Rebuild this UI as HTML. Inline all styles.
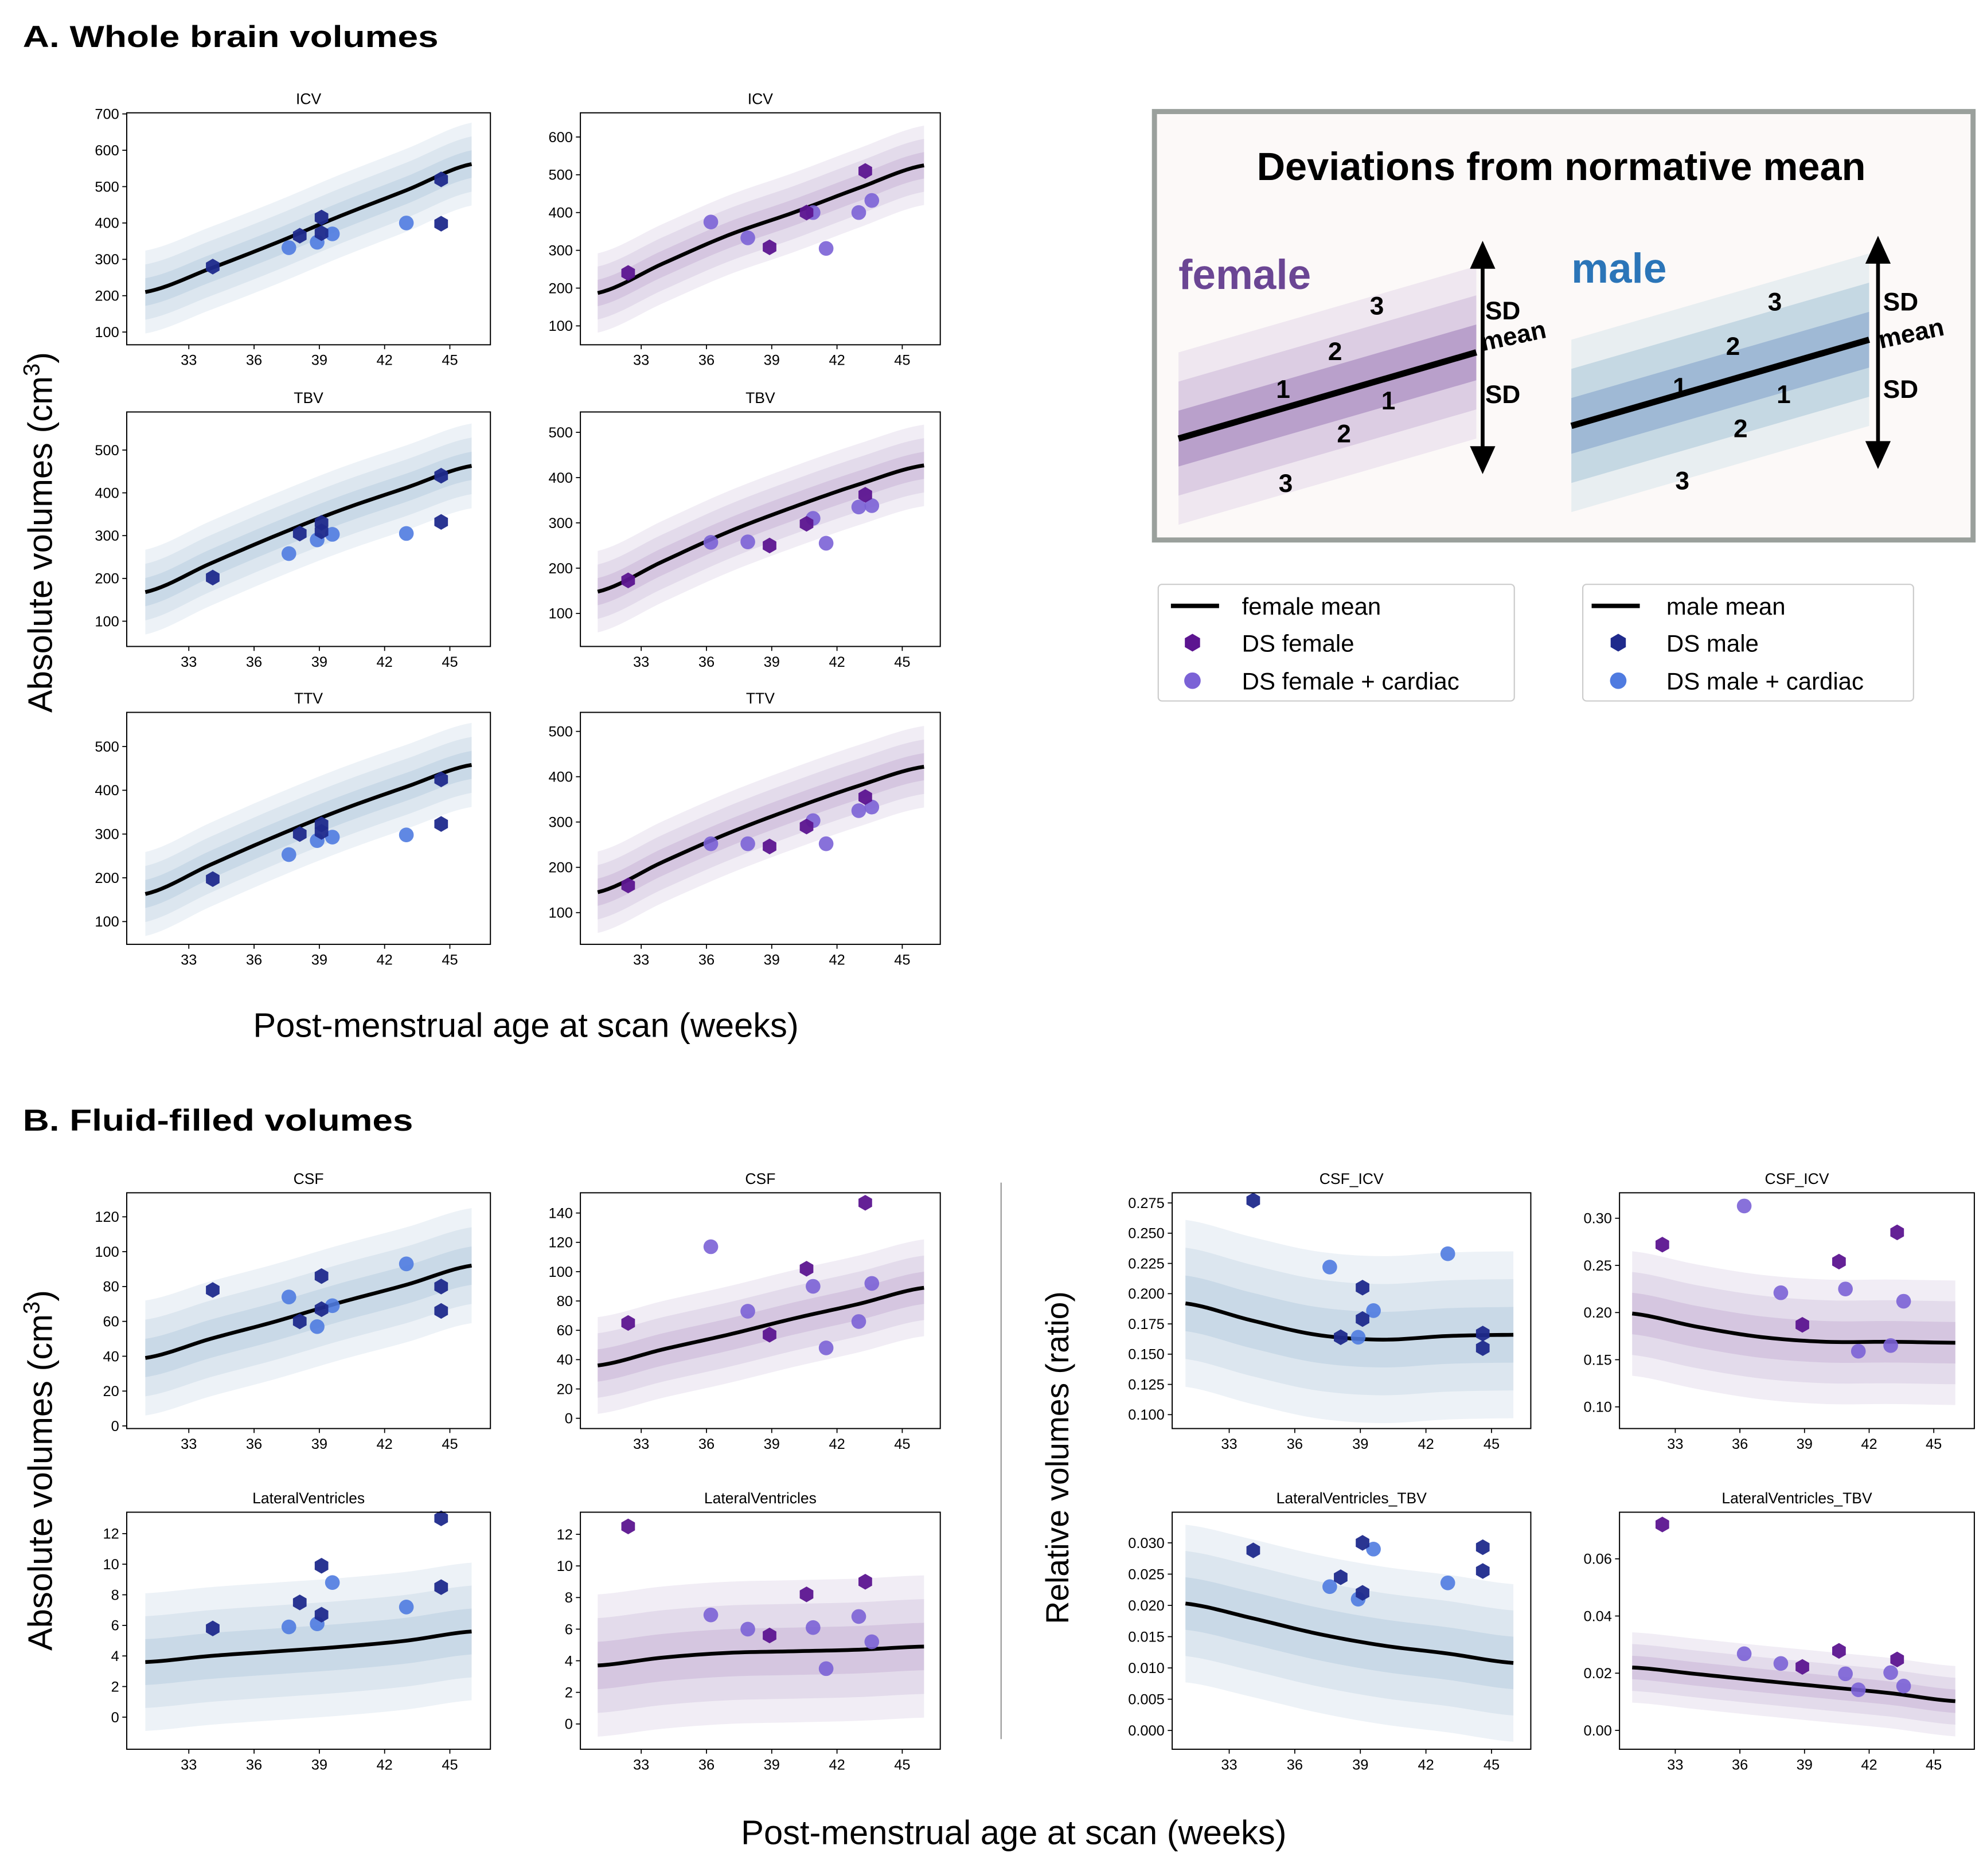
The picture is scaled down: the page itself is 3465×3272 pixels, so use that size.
<!DOCTYPE html>
<html><head><meta charset="utf-8">
<style>
html,body{margin:0;padding:0;background:#fff;}
svg{display:block;}
text{font-family:"Liberation Sans",sans-serif;}
</style></head>
<body>
<svg id="fig" width="3465" height="3272" viewBox="0 0 1568 1480" preserveAspectRatio="none" xmlns="http://www.w3.org/2000/svg">
<rect x="0" y="0" width="1568" height="1480" fill="#fff"/>
<text x="18" y="37" font-size="24" font-weight="bold" textLength="328" lengthAdjust="spacingAndGlyphs">A. Whole brain volumes</text>
<text x="18" y="892" font-size="24" font-weight="bold" textLength="308" lengthAdjust="spacingAndGlyphs">B. Fluid-filled volumes</text>
<text transform="translate(41,420) rotate(-90)" text-anchor="middle" font-size="27">Absolute volumes (cm<tspan font-size="18" dy="-10">3</tspan><tspan dy="10">)</tspan></text>
<text x="415" y="818" text-anchor="middle" font-size="27">Post-menstrual age at scan (weeks)</text>
<text transform="translate(41,1160) rotate(-90)" text-anchor="middle" font-size="27">Absolute volumes (cm<tspan font-size="18" dy="-10">3</tspan><tspan dy="10">)</tspan></text>
<text transform="translate(843,1150) rotate(-90)" text-anchor="middle" font-size="25">Relative volumes (ratio)</text>
<text x="800" y="1455" text-anchor="middle" font-size="27">Post-menstrual age at scan (weeks)</text>
<line x1="790" y1="933" x2="790" y2="1372" stroke="#999" stroke-width="1"/>

<g>
<rect x="911" y="88" width="646" height="338" fill="#fcf9f8" stroke="#9aa09c" stroke-width="4"/>
<text x="1232" y="142" text-anchor="middle" font-size="31" font-weight="bold">Deviations from normative mean</text>
<polygon points="930,278 1165,210 1165,346 930,414" fill="#efe7f0"/>
<polygon points="930,301 1165,233 1165,323 930,391" fill="#dccde3"/>
<polygon points="930,324 1165,256 1165,300 930,368" fill="#b9a0cb"/>
<line x1="930" y1="346" x2="1165" y2="278" stroke="#000" stroke-width="5"/>
<text x="930" y="228" font-size="33" font-weight="bold" fill="#6b4694">female</text>
<polygon points="1240,268 1475,200 1475,336 1240,404" fill="#e8eef1"/>
<polygon points="1240,291 1475,223 1475,313 1240,381" fill="#c5d8e3"/>
<polygon points="1240,314 1475,246 1475,290 1240,358" fill="#9fb9d5"/>
<line x1="1240" y1="336" x2="1475" y2="268" stroke="#000" stroke-width="5"/>
<text x="1240" y="223" font-size="33" font-weight="bold" fill="#2b75b8">male</text>
<g font-size="20" font-weight="bold">
<text x="1081" y="248">3</text><text x="1048" y="284">2</text><text x="1007" y="314">1</text><text x="1090" y="323">1</text><text x="1055" y="349">2</text><text x="1009" y="388">3</text>
<text x="1395" y="245">3</text><text x="1362" y="280">2</text><text x="1320" y="312">1</text><text x="1402" y="318">1</text><text x="1368" y="345">2</text><text x="1322" y="386">3</text>
<text x="1172" y="252">SD</text><text x="1170" y="277" transform="rotate(-12 1170 277)">mean</text><text x="1172" y="318">SD</text>
<text x="1486" y="245">SD</text><text x="1484" y="275" transform="rotate(-12 1484 275)">mean</text><text x="1486" y="314">SD</text>
</g>
<line x1="1170" y1="205" x2="1170" y2="360" stroke="#000" stroke-width="3"/>
<polygon points="1170,190 1160,212 1180,212" fill="#000"/><polygon points="1170,374 1160,352 1180,352" fill="#000"/>
<line x1="1482" y1="200" x2="1482" y2="356" stroke="#000" stroke-width="3"/>
<polygon points="1482,186 1472,208 1492,208" fill="#000"/><polygon points="1482,370 1472,348 1492,348" fill="#000"/>
</g>

<g>
<rect x="914" y="461" width="281" height="92" rx="3" fill="#fff" stroke="#ccc"/>
<line x1="924" y1="478" x2="962" y2="478" stroke="#000" stroke-width="3.5"/>
<polygon points="941,500 947,503.5 947,510.5 941,514 935,510.5 935,503.5" fill="#5c1590"/>
<circle cx="941" cy="537" r="6.5" fill="#7b62d6"/>
<text x="980" y="485" font-size="19">female mean</text>
<text x="980" y="514" font-size="19">DS female</text>
<text x="980" y="544" font-size="19">DS female + cardiac</text>
</g>
<g>
<rect x="1249" y="461" width="261" height="92" rx="3" fill="#fff" stroke="#ccc"/>
<line x1="1256" y1="478" x2="1294" y2="478" stroke="#000" stroke-width="3.5"/>
<polygon points="1277,500 1283,503.5 1283,510.5 1277,514 1271,510.5 1271,503.5" fill="#1f2a8c"/>
<circle cx="1277" cy="537" r="6.5" fill="#4f7be0"/>
<text x="1315" y="485" font-size="19">male mean</text>
<text x="1315" y="514" font-size="19">DS male</text>
<text x="1315" y="544" font-size="19">DS male + cardiac</text>
</g>
<g id="panels"></g>
</svg>
<script>
const meanAge = [31,34,37,40,43,46];
const maleHexAge = [34.1,38.1,39.1,39.1,44.6,44.6];
const maleCircAge = [37.6,38.9,39.6,43.0];
const femaleHexAge = [32.4,38.9,40.6,43.3];
const femaleCircAge = [36.2,37.9,40.9,41.5,43.0,43.6];
const xTicks = [33,36,39,42,45];

const icvMaleMean = [210,275,345,420,490,562];
const icvMaleSD = 38;
const icvMaleHex = [280,365,415,372,520,398];
const icvMaleCirc = [332,347,370,400];
const icvFemaleMean = [187,265,340,400,465,525];
const icvFemaleSD = 35;
const icvFemaleHex = [240,308,400,510];
const icvFemaleCirc = [375,333,400,305,400,432];
const tbvMaleMean = [168,235,300,360,412,463];
const tbvMaleSD = 33;
const tbvMaleHex = [202,305,330,310,440,332];
const tbvMaleCirc = [258,290,303,305];
const tbvFemaleMean = [148,215,280,335,385,427];
const tbvFemaleSD = 30;
const tbvFemaleHex = [173,250,298,362];
const tbvFemaleCirc = [257,258,310,255,335,338];
const ttvMaleMean = [163,230,295,355,408,458];
const ttvMaleSD = 32;
const ttvMaleHex = [197,300,322,305,425,323];
const ttvMaleCirc = [253,285,293,298];
const ttvFemaleMean = [145,212,275,330,380,422];
const ttvFemaleSD = 30;
const ttvFemaleHex = [160,246,290,355];
const ttvFemaleCirc = [252,252,303,252,325,333];
const csfMaleMean = [39,50,60,71,81,92];
const csfMaleSD = 11;
const csfMaleHex = [78,60,86,67,80,66];
const csfMaleCirc = [74,57,69,93];
const csfFemaleMean = [36,47,57,68,78,89];
const csfFemaleSD = 11;
const csfFemaleHex = [65,57,102,147];
const csfFemaleCirc = [117,73,90,48,66,92];
const lvMaleMean = [3.6,4.0,4.3,4.6,5.0,5.6];
const lvMaleSD = 1.5;
const lvMaleHex = [5.8,7.5,9.9,6.7,13,8.5];
const lvMaleCirc = [5.9,6.1,8.8,7.2];
const lvFemaleMean = [3.7,4.2,4.5,4.6,4.7,4.9];
const lvFemaleSD = 1.5;
const lvFemaleHex = [12.5,5.6,8.2,9.0];
const lvFemaleCirc = [6.9,6.0,6.1,3.5,6.8,5.2];
const csfIcvMaleMean = [0.192,0.178,0.166,0.162,0.165,0.166];
const csfIcvMaleSD = 0.023;
const csfIcvMaleHex = [0.277,0.164,0.205,0.179,0.167,0.155];
const csfIcvMaleCirc = [0.222,0.164,0.186,0.233];
const csfIcvFemaleMean = [0.199,0.185,0.174,0.169,0.169,0.168];
const csfIcvFemaleSD = 0.022;
const csfIcvFemaleHex = [0.272,0.187,0.254,0.285];
const csfIcvFemaleCirc = [0.313,0.221,0.225,0.159,0.165,0.212];
const lvTbvMaleMean = [0.0203,0.0180,0.0155,0.0136,0.0123,0.0108];
const lvTbvMaleSD = 0.0042;
const lvTbvMaleHex = [0.0288,0.0245,0.0300,0.0220,0.0293,0.0255];
const lvTbvMaleCirc = [0.0230,0.0210,0.0290,0.0236];
const lvTbvFemaleMean = [0.0220,0.0197,0.0174,0.0152,0.0130,0.0102];
const lvTbvFemaleSD = 0.0041;
const lvTbvFemaleHex = [0.0720,0.0222,0.0278,0.0248];
const lvTbvFemaleCirc = [0.0268,0.0234,0.0198,0.0142,0.0202,0.0155];

const icvMaleTicks = [100,200,300,400,500,600,700];
const icvFemaleTicks = [100,200,300,400,500,600];
const tbvTicks = [100,200,300,400,500];
const csfMaleTicks = [0,20,40,60,80,100,120];
const csfFemaleTicks = [0,20,40,60,80,100,120,140];
const lvTicks = [0,2,4,6,8,10,12];
const csfIcvMaleTicks = [0.100,0.125,0.150,0.175,0.200,0.225,0.250,0.275];
const csfIcvFemaleTicks = [0.10,0.15,0.20,0.25,0.30];
const lvTbvMaleTicks = [0.000,0.005,0.010,0.015,0.020,0.025,0.030];
const lvTbvFemaleTicks = [0.00,0.02,0.04,0.06];

const MALE = {b3:'#edf2f7',b2:'#dce6ef',b1:'#c9d9e7',hex:'#1f2a8c',circ:'#4f7be0'};
const FEMALE = {b3:'#f1edf5',b2:'#e3dbeb',b1:'#d5c6e0',hex:'#5c1590',circ:'#7b62d6'};

const COLS = [
 {x0:100,x1:387,t33:149,t45:355},
 {x0:458,x1:742,t33:506,t45:712},
 {x0:925,x1:1208,t33:970,t45:1177},
 {x0:1278,x1:1558,t33:1322,t45:1526}
];

const panels = [
 {name:'icv-male',title:'ICV',col:0,y0:89,y1:272,ylim:[65,703],ticks:icvMaleTicks,dec:0,mean:icvMaleMean,sd:icvMaleSD,hex:icvMaleHex,circ:icvMaleCirc,sex:'m'},
 {name:'icv-female',title:'ICV',col:1,y0:89,y1:272,ylim:[50,664],ticks:icvFemaleTicks,dec:0,mean:icvFemaleMean,sd:icvFemaleSD,hex:icvFemaleHex,circ:icvFemaleCirc,sex:'f'},
 {name:'tbv-male',title:'TBV',col:0,y0:325,y1:510,ylim:[41,589],ticks:tbvTicks,dec:0,mean:tbvMaleMean,sd:tbvMaleSD,hex:tbvMaleHex,circ:tbvMaleCirc,sex:'m'},
 {name:'tbv-female',title:'TBV',col:1,y0:325,y1:510,ylim:[27,545],ticks:tbvTicks,dec:0,mean:tbvFemaleMean,sd:tbvFemaleSD,hex:tbvFemaleHex,circ:tbvFemaleCirc,sex:'f'},
 {name:'ttv-male',title:'TTV',col:0,y0:562,y1:745,ylim:[48,578],ticks:tbvTicks,dec:0,mean:ttvMaleMean,sd:ttvMaleSD,hex:ttvMaleHex,circ:ttvMaleCirc,sex:'m'},
 {name:'ttv-female',title:'TTV',col:1,y0:562,y1:745,ylim:[30,542],ticks:tbvTicks,dec:0,mean:ttvFemaleMean,sd:ttvFemaleSD,hex:ttvFemaleHex,circ:ttvFemaleCirc,sex:'f'},
 {name:'csf-male',title:'CSF',col:0,y0:941,y1:1127,ylim:[-1.5,133.8],ticks:csfMaleTicks,dec:0,mean:csfMaleMean,sd:csfMaleSD,hex:csfMaleHex,circ:csfMaleCirc,sex:'m'},
 {name:'csf-female',title:'CSF',col:1,y0:941,y1:1127,ylim:[-7,153.8],ticks:csfFemaleTicks,dec:0,mean:csfFemaleMean,sd:csfFemaleSD,hex:csfFemaleHex,circ:csfFemaleCirc,sex:'f'},
 {name:'lv-male',title:'LateralVentricles',col:0,y0:1193,y1:1380,ylim:[-2.1,13.4],ticks:lvTicks,dec:0,mean:lvMaleMean,sd:lvMaleSD,hex:lvMaleHex,circ:lvMaleCirc,sex:'m'},
 {name:'lv-female',title:'LateralVentricles',col:1,y0:1193,y1:1380,ylim:[-1.6,13.4],ticks:lvTicks,dec:0,mean:lvFemaleMean,sd:lvFemaleSD,hex:lvFemaleHex,circ:lvFemaleCirc,sex:'f'},
 {name:'csf-icv-male',title:'CSF_ICV',col:2,y0:941,y1:1127,ylim:[0.0885,0.2834],ticks:csfIcvMaleTicks,dec:3,mean:csfIcvMaleMean,sd:csfIcvMaleSD,hex:csfIcvMaleHex,circ:csfIcvMaleCirc,sex:'m'},
 {name:'csf-icv-female',title:'CSF_ICV',col:3,y0:941,y1:1127,ylim:[0.077,0.327],ticks:csfIcvFemaleTicks,dec:2,mean:csfIcvFemaleMean,sd:csfIcvFemaleSD,hex:csfIcvFemaleHex,circ:csfIcvFemaleCirc,sex:'f'},
 {name:'lv-tbv-male',title:'LateralVentricles_TBV',col:2,y0:1193,y1:1380,ylim:[-0.003,0.0349],ticks:lvTbvMaleTicks,dec:3,mean:lvTbvMaleMean,sd:lvTbvMaleSD,hex:lvTbvMaleHex,circ:lvTbvMaleCirc,sex:'m'},
 {name:'lv-tbv-female',title:'LateralVentricles_TBV',col:3,y0:1193,y1:1380,ylim:[-0.0066,0.0763],ticks:lvTbvFemaleTicks,dec:2,mean:lvTbvFemaleMean,sd:lvTbvFemaleSD,hex:lvTbvFemaleHex,circ:lvTbvFemaleCirc,sex:'f'}
];

const NS='http://www.w3.org/2000/svg';
const root=document.getElementById('panels');
function mk(tag,parent){const e=document.createElementNS(NS,tag);parent.appendChild(e);return e;}

function interp(knots,vals,a){
  let i=0; while(i<knots.length-2 && a>knots[i+1]) i++;
  const t=(a-knots[i])/(knots[i+1]-knots[i]);
  const p0=vals[Math.max(i-1,0)],p1=vals[i],p2=vals[i+1],p3=vals[Math.min(i+2,vals.length-1)];
  const t2=t*t,t3=t2*t;
  return 0.5*((2*p1)+(-p0+p2)*t+(2*p0-5*p1+4*p2-p3)*t2+(-p0+3*p1-3*p2+p3)*t3);
}

panels.forEach(p=>{
  const c=COLS[p.col];
  const xs=a=>c.t33+(a-33)*(c.t45-c.t33)/12;
  const ys=v=>p.y1-(v-p.ylim[0])/(p.ylim[1]-p.ylim[0])*(p.y1-p.y0);
  const pal=p.sex==='m'?MALE:FEMALE;
  const g=mk('g',root);
  
  
  const clipId='clip-'+p.name;
  const cp=mk('clipPath',g); cp.setAttribute('id',clipId);
  const cr=mk('rect',cp); cr.setAttribute('x',c.x0); cr.setAttribute('y',p.y0); cr.setAttribute('width',c.x1-c.x0); cr.setAttribute('height',p.y1-p.y0);
  const inner=mk('g',g); inner.setAttribute('clip-path','url(#'+clipId+')');
  const samples=[]; for(let a=31;a<=46.001;a+=0.25) samples.push(a);
  [[3,pal.b3],[2,pal.b2],[1,pal.b1]].forEach(([k,col])=>{
    const top=samples.map(a=>xs(a).toFixed(2)+','+ys(interp(meanAge,p.mean,a)+k*p.sd).toFixed(2));
    const bot=samples.slice().reverse().map(a=>xs(a).toFixed(2)+','+ys(interp(meanAge,p.mean,a)-k*p.sd).toFixed(2));
    const poly=mk('polygon',inner);
    
    
    poly.setAttribute('points',top.concat(bot).join(' '));
    poly.setAttribute('fill',col);
  });
  const line=mk('polyline',inner);
  
  
  line.setAttribute('points',samples.map(a=>xs(a).toFixed(2)+','+ys(interp(meanAge,p.mean,a)).toFixed(2)).join(' '));
  line.setAttribute('fill','none'); line.setAttribute('stroke','#000'); line.setAttribute('stroke-width','3');
  const hexAges=p.sex==='m'?maleHexAge:femaleHexAge;
  const circAges=p.sex==='m'?maleCircAge:femaleCircAge;
  circAges.forEach((a,i)=>{
    const ci=mk('circle',g);
    
    
    ci.setAttribute('cx',xs(a)); ci.setAttribute('cy',ys(p.circ[i])); ci.setAttribute('r',5.8);
    ci.setAttribute('fill',pal.circ); ci.setAttribute('fill-opacity','0.9');
  });
  hexAges.forEach((a,i)=>{
    const cx=xs(a),cy=ys(p.hex[i]),r=6.2;
    const pts=[];for(let k=0;k<6;k++){const an=Math.PI/2+k*Math.PI/3;pts.push((cx+r*Math.cos(an)).toFixed(2)+','+(cy+r*Math.sin(an)).toFixed(2));}
    const h=mk('polygon',g);
    
    
    h.setAttribute('points',pts.join(' ')); h.setAttribute('fill',pal.hex); h.setAttribute('fill-opacity','0.95');
  });
  const fr=mk('rect',g);
  
  
  fr.setAttribute('x',c.x0); fr.setAttribute('y',p.y0); fr.setAttribute('width',c.x1-c.x0); fr.setAttribute('height',p.y1-p.y0);
  fr.setAttribute('fill','none'); fr.setAttribute('stroke','#000'); fr.setAttribute('stroke-width','0.9');
  const tt=mk('text',g);
  
  
  tt.setAttribute('x',(c.x0+c.x1)/2); tt.setAttribute('y',p.y0-7); tt.setAttribute('text-anchor','middle'); tt.setAttribute('font-size','12');
  tt.textContent=p.title;
  xTicks.forEach(v=>{
    const x=xs(v);
    const l=mk('line',g); l.setAttribute('x1',x); l.setAttribute('x2',x); l.setAttribute('y1',p.y1); l.setAttribute('y2',p.y1+3.5); l.setAttribute('stroke','#000'); l.setAttribute('stroke-width','0.8');
    const t=mk('text',g);
    
    
    t.setAttribute('x',x); t.setAttribute('y',p.y1+16); t.setAttribute('text-anchor','middle'); t.setAttribute('font-size','11.5');
    t.textContent=v;
  });
  p.ticks.forEach(v=>{
    const y=ys(v);
    const l=mk('line',g); l.setAttribute('x1',c.x0-3.5); l.setAttribute('x2',c.x0); l.setAttribute('y1',y); l.setAttribute('y2',y); l.setAttribute('stroke','#000'); l.setAttribute('stroke-width','0.8');
    const t=mk('text',g);
    
    
    t.setAttribute('x',c.x0-6); t.setAttribute('y',y+4); t.setAttribute('text-anchor','end'); t.setAttribute('font-size','11.5');
    t.textContent=v.toFixed(p.dec);
  });
});
</script>
</body></html>
